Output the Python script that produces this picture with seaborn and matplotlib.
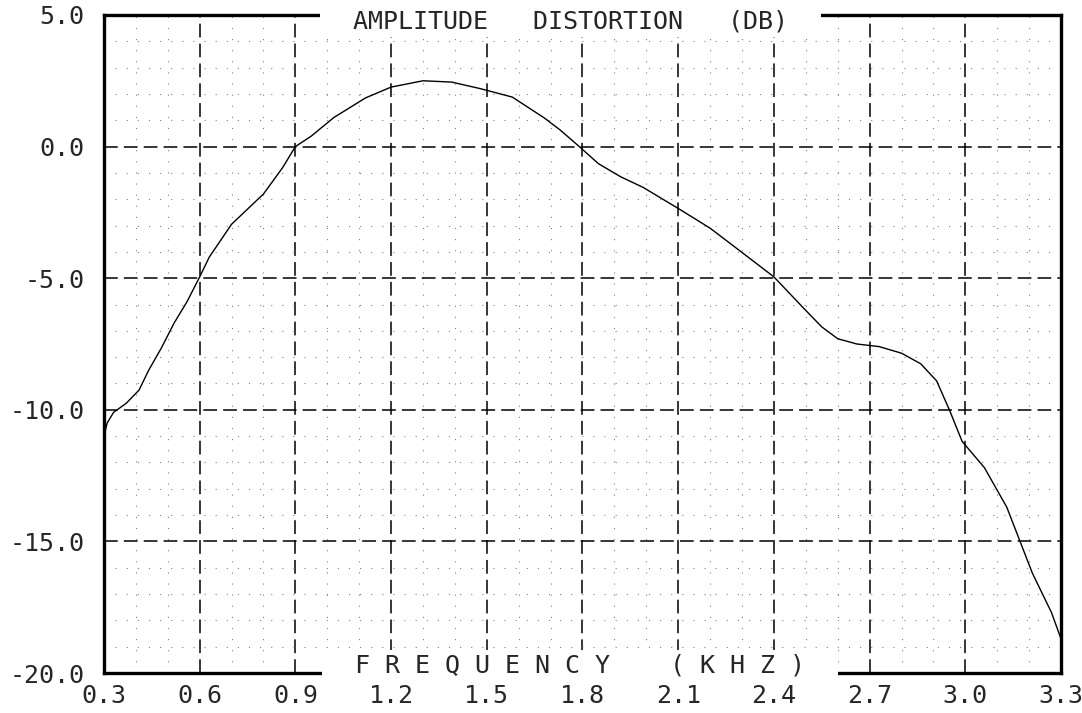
import matplotlib
matplotlib.use("Agg")
import matplotlib.pyplot as plt
from matplotlib.ticker import MultipleLocator
import pandas as pd
import seaborn as sns

# values
freq_khz = [0.30, 0.31, 0.33, 0.37, 0.41, 0.44, 0.48, 0.52, 0.56, 0.60,
            0.63, 0.70, 0.80, 0.86, 0.90, 0.95, 1.02, 1.12, 1.20, 1.30,
            1.39, 1.48, 1.58, 1.68, 1.73, 1.79, 1.85, 1.92, 1.99, 2.10,
            2.20, 2.29, 2.40, 2.49, 2.55, 2.60, 2.66, 2.73, 2.80, 2.86,
            2.91, 2.95, 2.99, 3.06, 3.13, 3.17, 3.21, 3.27, 3.30]
ampl_db = [-11.0, -10.5, -10.1, -9.75, -9.25, -8.5, -7.65, -6.7, -5.9, -4.95,
           -4.2, -2.95, -1.8, -0.8, 0.0, 0.4, 1.1, 1.85, 2.26, 2.5,
           2.45, 2.2, 1.88, 1.09, 0.63, 0.0, -0.65, -1.15, -1.55, -2.35,
           -3.1, -3.93, -4.95, -6.1, -6.85, -7.3, -7.5, -7.6, -7.85, -8.25,
           -8.9, -10.0, -11.2, -12.2, -13.7, -14.95, -16.2, -17.7, -18.7]

x_ticks = [0.3, 0.6, 0.9, 1.2, 1.5, 1.8, 2.1, 2.4, 2.7, 3.0, 3.3]
x_labels = ["0.3", "0.6", "0.9", "1.2", "1.5", "1.8", "2.1", "2.4", "2.7", "3.0", "3.3"]
y_ticks = [5, 0, -5, -10, -15, -20]
y_labels = ["5.0", "0.0", "-5.0", "-10.0", "-15.0", "-20.0"]

title = "  AMPLITUDE   DISTORTION   (DB)  "
xlabel = "  F R E Q U E N C Y    ( K H Z )  "

sns.set_style("white")
plt.rcParams["font.family"] = ["DejaVu Sans Mono", "DejaVu Sans"]

df = pd.DataFrame({"freq": freq_khz, "db": ampl_db})

fig = plt.figure(figsize=(10.82, 7.13), dpi=100)
ax = fig.add_axes([0.0961, 0.0561, 0.8845, 0.9229])

sns.lineplot(data=df, x="freq", y="db", ax=ax, color="black", linewidth=1.0,
             zorder=4)

ax.set_xlim(0.3, 3.3)
ax.set_ylim(-20, 5)
ax.set_xticks(x_ticks, x_labels)
ax.set_yticks(y_ticks, y_labels)
ax.xaxis.set_minor_locator(MultipleLocator(0.1))
ax.yaxis.set_minor_locator(MultipleLocator(1))
ax.tick_params(which="both", length=0)
ax.tick_params(axis="x", labelsize=18, pad=8)
ax.tick_params(axis="y", labelsize=18, pad=14)
ax.set_xlabel("")
ax.set_ylabel("")

ax.grid(which="major", color="black", linewidth=1.1, linestyle=(0, (9, 4)))
ax.grid(which="minor", color="0.5", linewidth=0.8, linestyle=(0, (1, 9)))
ax.set_axisbelow(True)

for s in ax.spines.values():
    s.set_visible(True)
    s.set_linewidth(2.4)
    s.set_color("black")

box = dict(facecolor="white", edgecolor="none", boxstyle="square,pad=0.12")
ax.text(0.487, 0.99, title, transform=ax.transAxes, ha="center", va="center",
        fontsize=18, bbox=box, zorder=5, clip_on=False)
ax.text(0.497, 0.012, xlabel, transform=ax.transAxes, ha="center", va="center",
        fontsize=18, bbox=box, zorder=5, clip_on=False)

fig.savefig("out.png", dpi=100, facecolor="white")
